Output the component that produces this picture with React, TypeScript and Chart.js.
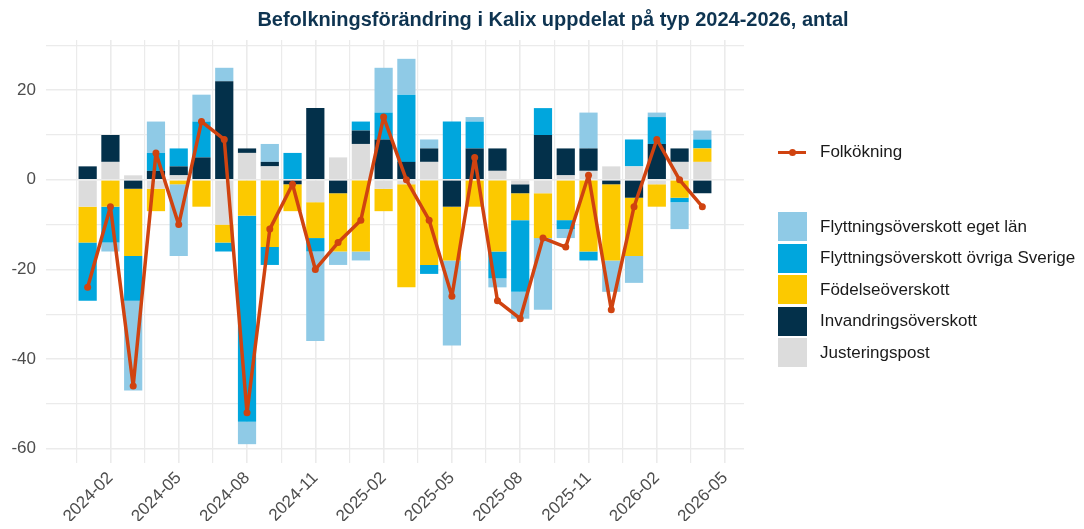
import React, { useEffect, useRef } from "react";
import { Chart, registerables } from "chart.js";

Chart.register(...registerables);

// ---- Data ----
const months = [
  "2024-01", "2024-02", "2024-03", "2024-04", "2024-05", "2024-06", "2024-07",
  "2024-08", "2024-09", "2024-10", "2024-11", "2024-12", "2025-01", "2025-02",
  "2025-03", "2025-04", "2025-05", "2025-06", "2025-07", "2025-08", "2025-09",
  "2025-10", "2025-11", "2025-12", "2026-01", "2026-02", "2026-03", "2026-04",
];

const egetLan = [0, -2, -20, 7, -16, 6, 3, -5, 4, 0, -20, -3, -2, 10, 8, 2, -19, 1, -2, -6, -16, -2, 8, -7, -6, 1, -6, 2];
const ovrigaSverige = [-13, -8, -10, 4, 4, 8, -2, -46, -4, 6, -3, 0, 2, 6, 15, -2, 13, 6, -6, -16, 6, -2, -2, 0, 6, 6, -1, 2];
const fodelse = [-8, -6, -15, -5, -1, -6, -4, -8, -15, -6, -8, -13, -16, -5, -23, -19, -12, -6, -16, -6, -10, -9, -16, -17, -13, -5, -4, 3];
const invandring = [3, 6, -2, 2, 2, 5, 22, 1, 1, -1, 16, -3, 3, 9, 4, 3, -6, 7, 5, -2, 10, 6, 5, -1, -4, 8, 3, -3];
const justering = [-6, 4, 1, -2, 1, 0, -10, 6, 3, 0, -5, 5, 8, -2, -1, 4, 0, 0, 2, -1, -3, 1, 2, 3, 3, -1, 4, 4];
const folkokning = [-24, -6, -46, 6, -10, 13, 9, -52, -11, -1, -20, -14, -9, 14, 0, -9, -26, 5, -27, -31, -13, -15, 1, -29, -6, 9, 0, -6];

const xTickLabels = ["2024-02", "2024-05", "2024-08", "2024-11", "2025-02", "2025-05", "2025-08", "2025-11", "2026-02", "2026-05"];
const yTickLabels = [-60, -40, -20, 0, 20];

const seriesNames = {
  egetLan: "Flyttningsöverskott eget län",
  ovriga: "Flyttningsöverskott övriga Sverige",
  fodelse: "Födelseöverskott",
  invandring: "Invandringsöverskott",
  justering: "Justeringspost",
  folk: "Folkökning",
};

const COLORS = {
  egetLan: "#8fcae6",
  ovriga: "#00a6dd",
  fodelse: "#fcc900",
  invandring: "#03304a",
  justering: "#dcdcdc",
  line: "#d04310",
};

const FONT = "'Liberation Sans', Arial, Helvetica, sans-serif";

const monthIndex = (s: string) => {
  const [y, m] = s.split("-").map(Number);
  const [y0, m0] = months[0].split("-").map(Number);
  return (y - y0) * 12 + (m - m0);
};

const W = 1068;
const H = 513;

export default function App() {
  const ref = useRef<HTMLCanvasElement | null>(null);

  useEffect(() => {
    if (!ref.current) return;
    const toXY = (arr: number[]) => arr.map((v, i) => ({ x: i, y: v }));

    const majorX = xTickLabels.map(monthIndex);
    const xTicks: number[] = [];
    majorX.forEach((p) => {
      xTicks.push(p - 1.5);
      xTicks.push(p);
    });
    const majorXLabel: Record<string, string> = {};
    majorX.forEach((p, i) => (majorXLabel[String(p)] = xTickLabels[i]));

    const yTicks: number[] = [];
    yTickLabels.forEach((v) => {
      yTicks.push(v);
      yTicks.push(v + 10);
    });

    const barCommon = {
      type: "bar" as const,
      stack: "bars",
      order: 2,
      borderWidth: 0,
      categoryPercentage: 0.8,
      barPercentage: 1,
    };

    const chart = new Chart(ref.current, {
      type: "bar",
      data: {
        datasets: [
          { ...barCommon, label: seriesNames.justering, data: toXY(justering), backgroundColor: COLORS.justering },
          { ...barCommon, label: seriesNames.invandring, data: toXY(invandring), backgroundColor: COLORS.invandring },
          { ...barCommon, label: seriesNames.fodelse, data: toXY(fodelse), backgroundColor: COLORS.fodelse },
          { ...barCommon, label: seriesNames.ovriga, data: toXY(ovrigaSverige), backgroundColor: COLORS.ovriga },
          { ...barCommon, label: seriesNames.egetLan, data: toXY(egetLan), backgroundColor: COLORS.egetLan },
          {
            type: "line",
            label: seriesNames.folk,
            data: toXY(folkokning),
            stack: "line",
            order: 0,
            borderColor: COLORS.line,
            backgroundColor: COLORS.line,
            borderWidth: 3.5,
            borderJoinStyle: "round",
            borderCapStyle: "round",
            pointRadius: 3.5,
            pointBorderWidth: 0,
            pointBackgroundColor: COLORS.line,
            tension: 0,
            fill: false,
          } as any,
        ],
      },
      options: {
        responsive: false,
        animation: false,
        devicePixelRatio: 1,
        layout: { padding: { left: 0, top: 32, right: W - 736, bottom: 0 } },
        plugins: {
          legend: { display: false },
          title: { display: false },
          tooltip: { enabled: false },
        },
        scales: {
          x: {
            type: "linear",
            min: -1.83,
            max: 28.83,
            stacked: true,
            offset: false,
            border: { display: false },
            grid: {
              offset: false,
              color: "#ebebeb",
              lineWidth: (ctx: any) => (ctx.tick && majorXLabel[String(ctx.tick.value)] ? 1.6 : 1.2),
              drawTicks: false,
            },
            afterBuildTicks: (scale: any) => {
              scale.ticks = xTicks.map((v) => ({ value: v }));
            },
            afterFit: (scale: any) => {
              scale.height = H - 455;
            },
            ticks: {
              autoSkip: false,
              minRotation: 45,
              maxRotation: 45,
              padding: 5,
              color: "#4d4d4d",
              font: { family: FONT, size: 17 },
              callback: (value: any) => majorXLabel[String(value)] ?? "",
            },
          },
          y: {
            type: "linear",
            min: -63.2,
            max: 31.2,
            stacked: true,
            border: { display: false },
            grid: {
              color: "#ebebeb",
              lineWidth: (ctx: any) => (ctx.tick && yTickLabels.includes(ctx.tick.value) ? 1.6 : 1.2),
              drawTicks: false,
            },
            afterBuildTicks: (scale: any) => {
              scale.ticks = yTicks.map((v) => ({ value: v }));
            },
            afterFit: (scale: any) => {
              scale.width = 38;
            },
            ticks: {
              padding: 10,
              color: "#4d4d4d",
              font: { family: FONT, size: 17 },
              callback: (value: any) => (yTickLabels.includes(value) ? String(value) : ""),
            },
          },
        },
      },
    });
    return () => chart.destroy();
  }, []);

  const legendBars = [
    { key: "egetLan", label: seriesNames.egetLan, color: COLORS.egetLan },
    { key: "ovriga", label: seriesNames.ovriga, color: COLORS.ovriga },
    { key: "fodelse", label: seriesNames.fodelse, color: COLORS.fodelse },
    { key: "invandring", label: seriesNames.invandring, color: COLORS.invandring },
    { key: "justering", label: seriesNames.justering, color: COLORS.justering },
  ];

  const textStyle: React.CSSProperties = {
    position: "absolute",
    fontFamily: FONT,
    fontSize: 17,
    color: "#1a1a1a",
    whiteSpace: "nowrap",
    lineHeight: "20px",
  };

  return (
    <div style={{ position: "relative", width: W, height: H, background: "#fff" }}>
      <canvas ref={ref} width={W} height={H} style={{ position: "absolute", left: 0, top: 0, width: W, height: H }} />
      <div
        style={{
          position: "absolute",
          left: 545,
          top: 1,
          transform: "translateX(-50%)",
          fontFamily: FONT,
          fontWeight: "bold",
          fontSize: 20,
          lineHeight: "20px",
          color: "#0e3451",
          whiteSpace: "nowrap",
        }}
      >
        Befolkningsförändring i Kalix uppdelat på typ 2024-2026, antal
      </div>
      {/* Line legend */}
      <div style={{ position: "absolute", left: 770, top: 142.5, width: 28, height: 3.5, background: COLORS.line }} />
      <div style={{ position: "absolute", left: 780.5, top: 140.5, width: 7, height: 7, borderRadius: "50%", background: COLORS.line }} />
      <div style={{ ...textStyle, left: 812, top: 134 }}>{seriesNames.folk}</div>
      {/* Bar legend */}
      {legendBars.map((b, i) => {
        const top = 204 + i * 31.6;
        return (
          <React.Fragment key={b.key}>
            <div style={{ position: "absolute", left: 770, top, width: 29, height: 29, background: b.color }} />
            <div style={{ ...textStyle, left: 812, top: top + 4.5 }}>{b.label}</div>
          </React.Fragment>
        );
      })}
    </div>
  );
}
